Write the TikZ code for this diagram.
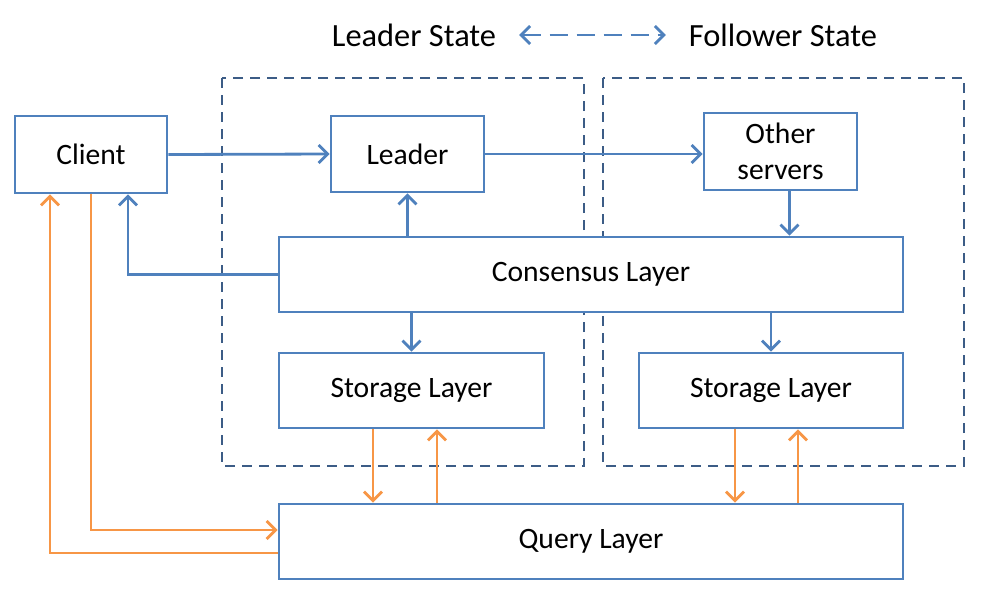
\documentclass[tikz,border=0pt]{standalone}
\usepackage{fontspec}
\setmainfont{Carlito}
\usetikzlibrary{arrows.meta}
\definecolor{boxblue}{HTML}{4F81BD}
\definecolor{dashblue}{HTML}{3C5C86}
\definecolor{qorange}{HTML}{F79646}
\tikzset{
  layer/.style={draw=boxblue, line width=1.4pt, fill=white, inner sep=2pt,
    font=\fontsize{14.8}{17}\selectfont},
  region/.style={draw=dashblue, line width=1.4pt, dash pattern=on 5pt off 3.5pt},
  bluearrow/.style={draw=boxblue, line width=1.4pt, -{Straight Barb[length=4.5pt,width=9pt,line width=1.4pt]}},
  orangearrow/.style={draw=qorange, line width=1.4pt, -{Straight Barb[length=4.5pt,width=9pt,line width=1.4pt]}}
}
\begin{document}
\begin{tikzpicture}[x=0.5pt,y=-0.5pt]
  \useasboundingbox (0,0) rectangle (991,602);

  % state legend
  \node[font=\fontsize{16.2}{19}\selectfont] (lstate) at (414,35) {Leader State};
  \node[font=\fontsize{16.2}{19}\selectfont] (fstate) at (783,35) {Follower State};
  \draw [draw=boxblue, line width=1.4pt, dash pattern=on 9pt off 4.5pt, shorten <=8pt, shorten >=8pt,
    {Straight Barb[length=4.5pt,width=9pt,line width=1.4pt]}-{Straight Barb[length=4.5pt,width=9pt,line width=1.4pt]}]
    (lstate) -- (fstate);

  % server regions
  \draw [region] (222,78) rectangle (584,466);
  \draw [region] (603,78) rectangle (964,466);

  % boxes
  \node[layer, minimum width=76pt, minimum height=38.5pt] (client) at (91,154.5) {Client};
  \node[layer, minimum width=76.5pt, minimum height=38pt] (leader) at (407.5,154) {Leader};
  \node[layer, minimum width=76.5pt, minimum height=38.5pt, align=center] (others) at (780.5,151.5) {Other\\[1pt]servers};
  \node[layer, minimum width=312pt, minimum height=37.5pt] (consensus) at (591,274.5) {Consensus Layer};
  \node[layer, minimum width=132.5pt, minimum height=37.5pt] (storeL) at (411.5,390.5) {Storage Layer};
  \node[layer, minimum width=132pt, minimum height=37.5pt] (storeR) at (771,390.5) {Storage Layer};
  \node[layer, minimum width=312pt, minimum height=37.5pt] (query) at (591,541.5) {Query Layer};

  % consensus traffic
  \draw [bluearrow] (client.east) -- (leader.west);
  \draw [bluearrow] (leader.east) -- (leader.east -| others.west);
  \draw [bluearrow] (consensus.north -| leader.south) -- (leader.south);
  \draw [bluearrow] ([xshift=4.5pt]others.south) -- ([xshift=4.5pt]others.south |- consensus.north);
  \draw [bluearrow] (consensus.west) -| ([xshift=18.5pt]client.south);
  \draw [bluearrow] (consensus.south -| storeL.north) -- (storeL.north);
  \draw [bluearrow] (consensus.south -| storeR.north) -- (storeR.north);

  % query traffic
  \draw [orangearrow] ([xshift=-19.25pt]storeL.south) -- ([xshift=-19.25pt]storeL.south |- query.north);
  \draw [orangearrow] ([xshift=12.75pt]storeL.south |- query.north) -- ([xshift=12.75pt]storeL.south);
  \draw [orangearrow] ([xshift=-18pt]storeR.south) -- ([xshift=-18pt]storeR.south |- query.north);
  \draw [orangearrow] ([xshift=13.5pt]storeR.south |- query.north) -- ([xshift=13.5pt]storeR.south);
  \draw [orangearrow] (client.south) |- ([yshift=5.75pt]query.west);
  \draw [orangearrow] ([yshift=-5.75pt]query.west) -| ([xshift=-20.5pt]client.south);
\end{tikzpicture}
\end{document}
